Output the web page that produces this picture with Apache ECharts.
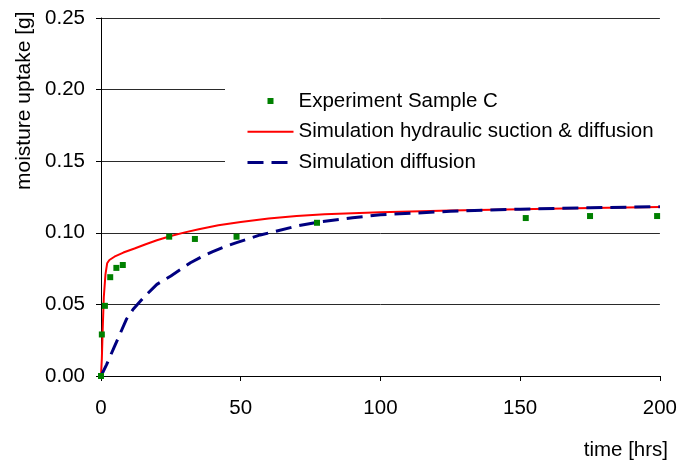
<!DOCTYPE html>
<html>
<head>
<meta charset="utf-8">
<style>
  html, body { margin: 0; padding: 0; background: #fff; }
  #chart { width: 680px; height: 463px; }
</style>
<script src="https://cdn.jsdelivr.net/npm/echarts@6/dist/echarts.min.js"></script>
</head>
<body>
<div id="chart"></div>
<script>
// Measured moisture uptake of sample C
var expHours  = [0, 0.3, 1.4, 3.3, 5.5, 7.8, 24.4, 33.6, 48.5, 77.3, 152, 175, 199];
var expUptake = [0, 0.029, 0.049, 0.069, 0.0755, 0.0775, 0.0973, 0.0957, 0.0973, 0.107, 0.1103, 0.1117, 0.1117];

// Simulation: hydraulic suction combined with diffusion
var suctionHours  = [0, 0.3, 0.6, 1, 1.6, 2.2, 3, 4.8, 8, 12, 16, 20, 25, 30, 35, 42, 50, 60, 70, 80, 100, 125, 150, 175, 200];
var suctionUptake = [0, 0.012, 0.032, 0.055, 0.071, 0.0787, 0.081, 0.0833, 0.0862, 0.089, 0.092, 0.0948, 0.0978, 0.1003, 0.1025, 0.1052, 0.1075, 0.1100, 0.1117, 0.1130, 0.1143, 0.1155, 0.1165, 0.1174, 0.1180];

// Simulation: diffusion only
var diffHours  = [0, 2, 4.8, 9.2, 11.5, 15, 20, 25, 32, 36.6, 40, 45, 48.5, 57, 62, 70, 78, 90, 100, 125, 150, 175, 200];
var diffUptake = [0, 0.008, 0.0205, 0.040, 0.0466, 0.0543, 0.064, 0.0698, 0.0791, 0.0838, 0.0868, 0.0908, 0.0931, 0.0985, 0.1008, 0.1047, 0.1075, 0.1105, 0.1126, 0.1150, 0.1165, 0.1175, 0.1182];

var seriesNames = ['Experiment Sample C', 'Simulation hydraulic suction & diffusion', 'Simulation diffusion'];
var xTicks = [0, 50, 100, 150, 200];
var yTicks = [0, 0.05, 0.10, 0.15, 0.20, 0.25];

function pairs(xs, ys) {
  return xs.map(function (x, i) { return [x, ys[i]]; });
}

var FONT = "'Liberation Sans', Arial, sans-serif";
var FS = 20.5;

var chart = echarts.init(document.getElementById('chart'), null, { renderer: 'canvas' });

chart.setOption({
  backgroundColor: '#ffffff',
  animation: false,
  textStyle: { fontFamily: FONT },
  grid: { left: 101, right: 20, top: 18, bottom: 87, containLabel: false },
  xAxis: {
    type: 'value',
    min: xTicks[0],
    max: xTicks[xTicks.length - 1],
    interval: xTicks[1] - xTicks[0],
    axisLine: { show: true, onZero: false, lineStyle: { color: '#000', width: 1 } },
    axisTick: { show: true, inside: false, length: 5, lineStyle: { color: '#000' } },
    axisLabel: { color: '#000', fontSize: FS, fontFamily: FONT, margin: 22 },
    splitLine: { show: false }
  },
  yAxis: {
    type: 'value',
    min: yTicks[0],
    max: yTicks[yTicks.length - 1],
    interval: yTicks[1] - yTicks[0],
    axisLine: { show: true, lineStyle: { color: '#000', width: 1 } },
    axisTick: { show: true, inside: false, length: 5, lineStyle: { color: '#000' } },
    axisLabel: {
      color: '#000', fontSize: FS, fontFamily: FONT, margin: 16,
      formatter: function (v) { return v.toFixed(2); }
    },
    splitLine: { show: true, lineStyle: { color: '#2a2a2a', width: 1 } }
  },
  legend: {
    orient: 'vertical',
    left: 225,
    top: 74,
    padding: [16, 12, 16, 21],
    backgroundColor: '#ffffff',
    itemWidth: 46,
    itemHeight: 6,
    itemGap: 8.7,
    textStyle: { color: '#000', fontSize: FS, fontFamily: FONT, lineHeight: 22 },
    data: [
      { name: seriesNames[0], icon: 'path://M0,0h10v10h-10z', itemStyle: { color: '#008000', opacity: 1 } },
      { name: seriesNames[1], itemStyle: { opacity: 0 }, lineStyle: { color: '#ff0000', width: 2, opacity: 1 } },
      { name: seriesNames[2], itemStyle: { opacity: 0 }, lineStyle: { color: '#000080', width: 3, type: [16, 8], opacity: 1 } }
    ]
  },
  graphic: [
    {
      type: 'text',
      x: 24,
      y: 190,
      rotation: Math.PI / 2,
      style: {
        text: 'moisture uptake [g]',
        font: '21px ' + FONT,
        fill: '#000',
        align: 'left',
        verticalAlign: 'middle'
      }
    },
    {
      type: 'text',
      x: 668,
      y: 450,
      style: {
        text: 'time [hrs]',
        font: FS + 'px ' + FONT,
        fill: '#000',
        align: 'right',
        verticalAlign: 'middle'
      }
    }
  ],
  series: [
    {
      name: seriesNames[1],
      type: 'line',
      data: pairs(suctionHours, suctionUptake),
      showSymbol: false,
      symbol: 'none',
      lineStyle: { color: '#ff0000', width: 2 },
      itemStyle: { color: '#ff0000' },
      z: 2
    },
    {
      name: seriesNames[2],
      type: 'line',
      data: pairs(diffHours, diffUptake),
      showSymbol: false,
      symbol: 'none',
      lineStyle: { color: '#000080', width: 3, type: [16, 8] },
      itemStyle: { color: '#000080' },
      z: 3
    },
    {
      name: seriesNames[0],
      type: 'scatter',
      data: pairs(expHours, expUptake),
      symbol: 'rect',
      symbolSize: 6,
      itemStyle: { color: '#008000', opacity: 1 },
      z: 4
    }
  ]
});
</script>
</body>
</html>
